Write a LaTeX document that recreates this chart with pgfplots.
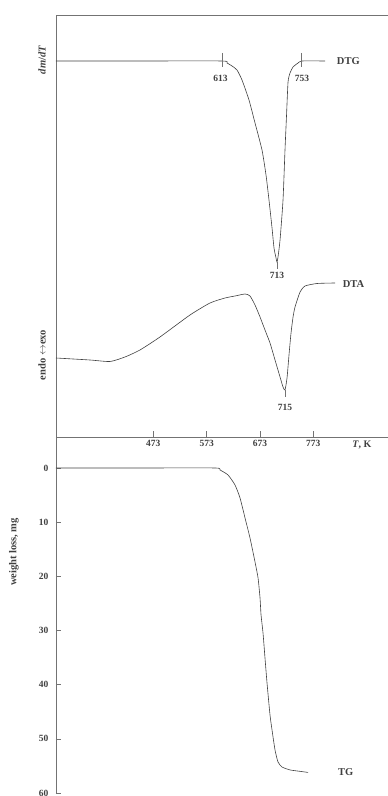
\documentclass[border=0pt]{standalone}
\usepackage{fontspec}
\setmainfont{Liberation Serif}
\usepackage{pgfplots}
\pgfplotsset{compat=1.18}
\definecolor{ink}{gray}{0.25}
\definecolor{frame}{gray}{0.45}
\begin{document}
\begin{tikzpicture}[x=1pt,y=1pt]
\useasboundingbox (0pt,0pt) rectangle (388pt,796pt);
% ---------- top axis: DTG + DTA ----------
\begin{axis}[at={(56pt,359pt)}, anchor=south west, scale only axis,
  width=332pt, height=422pt,
  xmin=290.6, xmax=913, ymin=0, ymax=422,
  axis line style={draw=none},
  xtick={473,573,673,773}, xtick pos=bottom, ytick=\empty,
  tick align=inside, major tick length=6pt,
  tick style={frame, line width=0.6pt},
  /pgf/number format/assume math mode=true,
  xticklabel style={font=\fontsize{9.5}{11}\selectfont\bfseries, text=ink},
  clip=false]
\draw[frame, line width=0.8pt] (rel axis cs:0,0) -- (rel axis cs:0,1) -- (rel axis cs:1,1);
\draw[frame, line width=0.8pt] (rel axis cs:0,0) -- (rel axis cs:1,0);
% DTG
\addplot[ink, line width=0.6pt, smooth, tension=0.35] coordinates {
(290.6,376) (450,376) (601.8,376) (611.2,374) (620.6,371) (629.9,367) (639.3,357)
(652.4,337) (663.7,314) (676.8,287) (684.3,262) (689.9,237) (695.6,209)
(699.3,189) (703.1,179) (704.9,175) (706.8,180) (710.6,197) (716.2,237)
(719.9,287) (722.8,322) (725.6,355) (729.3,364) (735,370) (744.4,374)
(751.9,376) (795,376)};
% DTA
\addplot[ink, line width=0.6pt, smooth, tension=0.35] coordinates {
(290.6,79) (354.3,77) (391.8,75.5) (419.9,80) (448,87) (485.5,100) (541.8,122)
(579.3,134) (607.4,139) (626.2,141) (645,143) (654.3,141) (663.7,132)
(673.1,120) (682.4,107) (691.8,94) (701.2,77) (710.6,60) (716.2,50)
(719.9,47) (723.7,59) (727.4,82) (731.2,104) (735,120) (738.7,130)
(748.1,145) (757.5,151) (780,153.5) (813.8,154)};
% annotations
\draw[frame, line width=0.6pt] (axis cs:601.8,384) -- (axis cs:601.8,370);
\draw[frame, line width=0.6pt] (axis cs:750,384) -- (axis cs:750,370);
\draw[frame, line width=0.6pt] (axis cs:704.9,175) -- (axis cs:704.9,168);
\draw[frame, line width=0.6pt] (axis cs:719.9,47) -- (axis cs:719.9,40);
\node[text=ink, font=\fontsize{9.5}{11}\selectfont\bfseries] at (axis cs:599,359) {613};
\node[text=ink, font=\fontsize{9.5}{11}\selectfont\bfseries] at (axis cs:752,359) {753};
\node[text=ink, font=\fontsize{9.5}{11}\selectfont\bfseries] at (axis cs:705,162) {713};
\node[text=ink, font=\fontsize{9.5}{11}\selectfont\bfseries] at (axis cs:720,30) {715};
\node[text=ink, anchor=west, inner sep=0pt, font=\fontsize{10.5}{12}\selectfont\bfseries] at (axis cs:817,376) {DTG};
\node[text=ink, anchor=west, inner sep=0pt, font=\fontsize{10.5}{12}\selectfont\bfseries] at (axis cs:828,153) {DTA};
\node[text=ink, font=\fontsize{10}{12}\selectfont\bfseries] at (axis cs:864,-8) {\textit{T}, K};
\end{axis}
% ---------- bottom axis: TG ----------
\begin{axis}[at={(56pt,3pt)}, anchor=south west, scale only axis,
  width=332pt, height=356pt,
  xmin=290.6, xmax=913, ymin=-5.72, ymax=60, y dir=reverse,
  axis line style={draw=none},
  xtick=\empty, ytick={0,10,20,30,40,50,60}, ytick pos=left,
  tick align=inside, major tick length=5pt,
  tick style={frame, line width=0.6pt},
  /pgf/number format/assume math mode=true,
  yticklabel style={font=\fontsize{9.5}{11}\selectfont\bfseries, text=ink, xshift=-4pt},
  clip=false]
\draw[frame, line width=0.8pt] (rel axis cs:0,0) -- (rel axis cs:0,1) -- (rel axis cs:1,1);
\addplot[ink, line width=0.6pt, smooth, tension=0.35] coordinates {
(290.6,0) (450,0) (588.7,0) (598.1,0.37) (613.1,1.29) (626.2,3.14) (635.6,5.54)
(645,9.23) (654.3,12.92) (663.7,17.35) (669.4,20.31) (673.1,24.0) (675,27.14)
(678.7,30.46) (682.4,35.07) (686.2,39.69) (691.8,45.6) (695.6,48.37)
(701.2,52.06) (706.8,54.27) (714.3,55.2) (729.3,55.74) (748.1,56.0) (763.1,56.2)};
\node[text=ink, anchor=west, inner sep=0pt, font=\fontsize{10.5}{12}\selectfont\bfseries] at (axis cs:819,56.1) {TG};
\end{axis}
% y labels
\node[text=ink, rotate=90, font=\fontsize{10.5}{12}\selectfont\bfseries] at (42pt,736pt) {\textit{dm}/\textit{dT}};
\node[text=ink, rotate=90, font=\fontsize{10.5}{12}\selectfont\bfseries] at (42pt,441pt) {endo $\leftrightarrow$exo};
\node[text=ink, rotate=90, font=\fontsize{10.5}{12}\selectfont\bfseries] at (14pt,244pt) {weight loss, mg};
\end{tikzpicture}
\end{document}
